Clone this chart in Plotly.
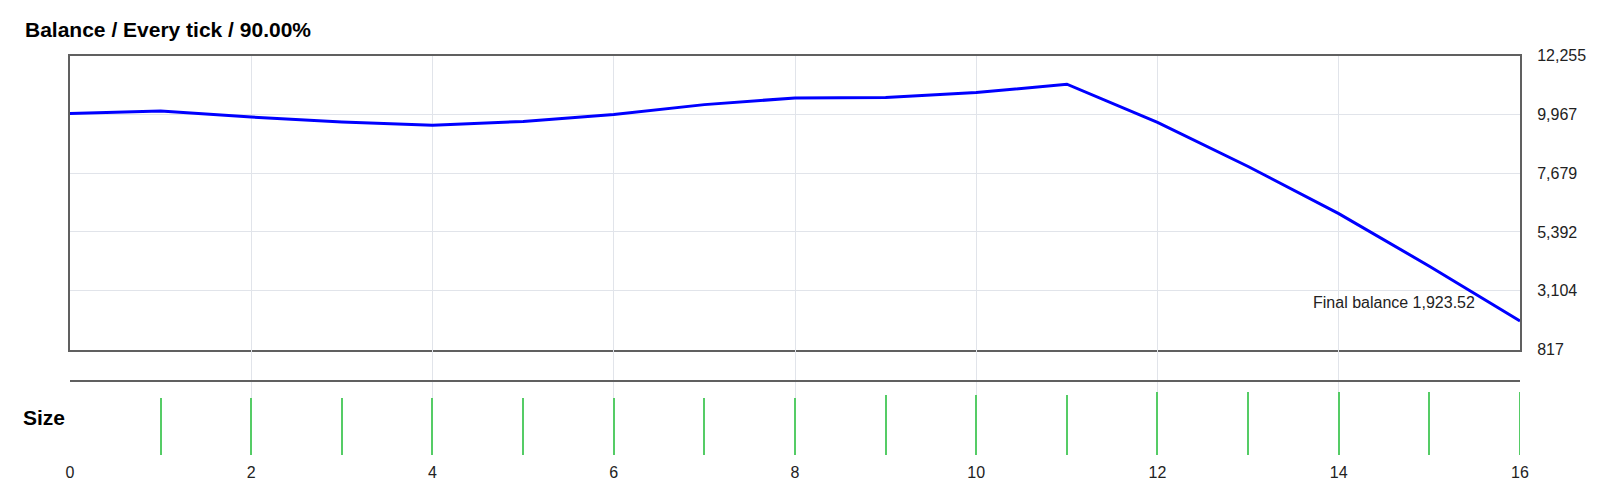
import numpy as np
import plotly.graph_objects as go

# balance per step
steps = list(range(17))
balance = [10000, 10100, 9863, 9668, 9538, 9690, 9960, 10344, 10604, 10620,
           10812, 11140, 9657, 7937, 6101, 4058, 1923.52]

# position size per step (step 0 has none)
size_steps = list(range(1, 17))
sizes = [0.90, 0.90, 0.90, 0.90, 0.90, 0.90, 0.90, 0.90,
         0.95, 0.95, 0.95,
         1.00, 1.00, 1.00, 1.00, 1.00]

y_min, y_max = 817, 12255
title_text = "Balance / Every tick / 90.00%"

y_ticks = np.linspace(y_min, y_max, 6)
y_ticktext = [f"{int(np.floor(v)):,}" for v in y_ticks]

FONT = "Liberation Sans, Arial, sans-serif"
FRAME = "#606060"
GRID = "#e1e4ea"

fig = go.Figure()

fig.add_trace(go.Scatter(
    x=steps, y=balance, mode="lines",
    line=dict(color="#0000ff", width=3),
    xaxis="x", yaxis="y", showlegend=False))

fig.add_trace(go.Bar(
    x=size_steps, y=sizes, width=0.012,
    marker=dict(color="#55cc66", line=dict(width=0)),
    xaxis="x2", yaxis="y2", showlegend=False))

# dummy trace so the gap strip is drawn
fig.add_trace(go.Scatter(x=[None], y=[None], xaxis="x3", yaxis="y3",
                         showlegend=False, hoverinfo="skip"))

xdom = [70 / 1600, 1520 / 1600]

fig.update_layout(
    template="none",
    width=1600, height=500,
    margin=dict(l=0, r=0, t=0, b=0),
    paper_bgcolor="white", plot_bgcolor="white",
    font=dict(family=FONT, size=16, color="#222"),
    title=dict(text=f"<b>{title_text}</b>", x=25 / 1600, xanchor="left",
               xref="container", y=1 - 30 / 500, yanchor="middle",
               yref="container", font=dict(size=21, color="#000")),
    bargap=0,
    # balance panel
    xaxis=dict(domain=xdom, range=[0, 16], dtick=2, showgrid=True,
               gridcolor=GRID, gridwidth=1, showticklabels=False,
               zeroline=False, automargin=False, ticks="",
               showline=True, mirror=True, linecolor=FRAME, linewidth=2),
    yaxis=dict(domain=[(500 - 349.5) / 500, (500 - 55.5) / 500],
               range=[y_min, y_max], side="right", tickvals=y_ticks,
               ticktext=y_ticktext, showgrid=True, gridcolor=GRID,
               gridwidth=1, zeroline=False, showline=True, mirror=True,
               linecolor=FRAME, linewidth=2, ticks="", automargin=False,
               ticklabelstandoff=12, tickfont=dict(size=16, color="#222")),
    # gap strip with the separator line
    xaxis3=dict(domain=xdom, range=[0, 16], dtick=2, showgrid=True,
                gridcolor=GRID, gridwidth=1, showticklabels=False,
                zeroline=False, automargin=False, ticks="",
                showline=True, linecolor=FRAME, linewidth=2,
                anchor="y3", matches="x"),
    yaxis3=dict(domain=[(500 - 380) / 500, (500 - 349.5) / 500],
                range=[0, 1], visible=False, anchor="x3", automargin=False),
    # size panel
    xaxis2=dict(domain=xdom, range=[0, 16], dtick=2, showgrid=True,
                gridcolor=GRID, gridwidth=1, zeroline=False,
                showline=False, automargin=False,
                anchor="y2", matches="x", ticks="", ticklabelstandoff=6,
                tickfont=dict(size=16, color="#222")),
    yaxis2=dict(domain=[(500 - 455) / 500, (500 - 380) / 500],
                range=[0, 1.19], visible=False, anchor="x2",
                automargin=False),
)

fig.add_annotation(
    x=steps[-1], y=balance[-1], xref="x", yref="y",
    text=f"Final balance {balance[-1]:,.2f}", showarrow=False,
    xanchor="right", yanchor="middle", xshift=-43, yshift=19,
    font=dict(size=16, color="#222"))

fig.add_annotation(
    x=21 / 1600, y=(500 - 417) / 500, xref="paper", yref="paper",
    text="<b>Size</b>", showarrow=False, xanchor="left", yanchor="middle",
    font=dict(size=21, color="#000"))

# the page's default 8px body margin would push the figure off its frame
fig.write_html("out.html", config={"displayModeBar": False},
               post_script="document.body.style.margin='0';")
